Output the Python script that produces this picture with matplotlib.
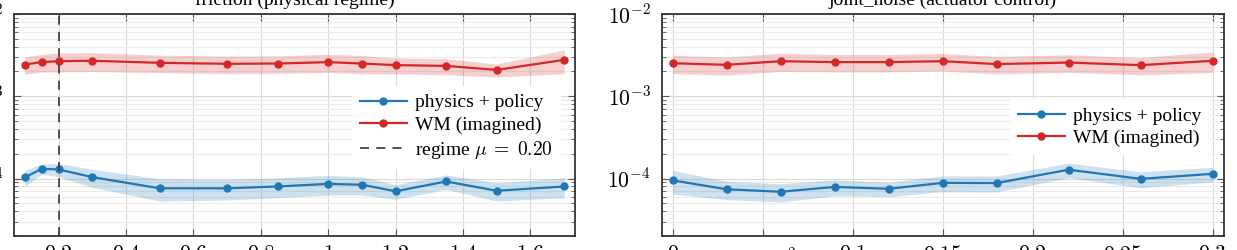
#!/usr/bin/env python3
"""
Model error vs. perturbation level: physics + policy rollouts vs. world-model imagination.
"""

import matplotlib
matplotlib.use("Agg")
import matplotlib.pyplot as plt
from matplotlib.ticker import FixedLocator, FixedFormatter, NullLocator, LogLocator
from matplotlib.transforms import ScaledTranslation

plt.rcParams["font.family"] = ["Liberation Serif", "DejaVu Serif"]
plt.rcParams["mathtext.fontset"] = "cm"

BLUE = "#1f77b4"
RED = "#d62728"

# friction sweep
friction_x = [0.1, 0.15, 0.2, 0.3, 0.5, 0.7, 0.85, 1.0, 1.1, 1.2, 1.35, 1.5, 1.7]
friction_phys = [1.03e-4, 1.31e-4, 1.29e-4, 1.04e-4, 7.6e-5, 7.6e-5, 8.0e-5,
                 8.6e-5, 8.4e-5, 7.0e-5, 9.2e-5, 7.1e-5, 8.0e-5]
friction_phys_rel = [0.22, 0.14, 0.18, 0.25, 0.30, 0.28, 0.27, 0.27, 0.25,
                     0.20, 0.20, 0.25, 0.27]
friction_wm = [2.43e-3, 2.60e-3, 2.67e-3, 2.70e-3, 2.55e-3, 2.48e-3, 2.50e-3,
               2.60e-3, 2.50e-3, 2.39e-3, 2.34e-3, 2.09e-3, 2.77e-3]
friction_wm_rel = [0.24, 0.24, 0.26, 0.26, 0.24, 0.24, 0.24, 0.25, 0.25,
                   0.22, 0.22, 0.18, 0.32]
friction_regime = 0.20
friction_ticks = [0.2, 0.4, 0.6, 0.8, 1.0, 1.2, 1.4, 1.6]
friction_ticklabels = ["$0.2$", "$0.4$", "$0.6$", "$0.8$", "$1$", "$1.2$", "$1.4$", "$1.6$"]

# joint noise sweep
noise_x = [0.0, 0.03, 0.06, 0.09, 0.12, 0.15, 0.18, 0.22, 0.26, 0.30]
noise_phys = [9.5e-5, 7.4e-5, 6.9e-5, 7.9e-5, 7.5e-5, 8.85e-5, 8.8e-5,
              1.28e-4, 9.9e-5, 1.14e-4]
noise_phys_rel = [0.32, 0.25, 0.25, 0.22, 0.20, 0.22, 0.22, 0.20, 0.22, 0.20]
noise_wm = [2.52e-3, 2.41e-3, 2.67e-3, 2.60e-3, 2.60e-3, 2.67e-3, 2.46e-3,
            2.57e-3, 2.39e-3, 2.70e-3]
noise_wm_rel = [0.25, 0.25, 0.25, 0.24, 0.24, 0.24, 0.24, 0.24, 0.24, 0.28]
noise_ticks = [0.0, 0.05, 0.1, 0.15, 0.2, 0.25, 0.3]
noise_ticklabels = ["$0$", r"$5\cdot10^{-2}$", "$0.1$", "$0.15$", "$0.2$", "$0.25$", "$0.3$"]

y_ticks = [1e-4, 1e-3, 1e-2]
y_ticklabels = ["$10^{-4}$", "$10^{-3}$", "$10^{-2}$"]


def draw_series(ax, x, mean, rel, color, label):
    lo = [m * (1 - r) for m, r in zip(mean, rel)]
    hi = [m * (1 + r) for m, r in zip(mean, rel)]
    ax.fill_between(x, lo, hi, color=color, alpha=0.22, linewidth=0)
    ax.plot(x, mean, "-o", color=color, linewidth=1.6, markersize=5, label=label)


def style_axes(ax, xlim, xticks, xticklabels):
    ax.set_yscale("log")
    ax.set_ylim(2e-5, 1e-2)
    ax.set_xlim(*xlim)
    ax.xaxis.set_major_locator(FixedLocator(xticks))
    ax.xaxis.set_major_formatter(FixedFormatter(xticklabels))
    ax.xaxis.set_minor_locator(NullLocator())
    ax.yaxis.set_major_locator(FixedLocator(y_ticks))
    ax.yaxis.set_major_formatter(FixedFormatter(y_ticklabels))
    ax.yaxis.set_minor_locator(LogLocator(base=10, subs=range(2, 10)))
    ax.grid(which="major", color="#dadada", linewidth=0.8)
    ax.grid(which="minor", axis="y", color="#ececec", linewidth=0.8)
    ax.set_axisbelow(True)
    ax.tick_params(which="both", direction="in", top=True, right=True,
                   color="#555555", labelsize=15.5)
    ax.tick_params(which="major", length=5, width=0.8)
    ax.tick_params(which="minor", length=3, width=0.6)
    ax.tick_params(axis="x", pad=7)
    ax.tick_params(axis="y", pad=8)
    for sp in ax.spines.values():
        sp.set_color("#333333")
        sp.set_linewidth(1.3)


def main() -> None:
    fig = plt.figure(figsize=(12.37, 2.5), dpi=100)
    ax1 = fig.add_axes([14 / 1237, 0.056, 561 / 1237, 0.888])
    ax2 = fig.add_axes([661.7 / 1237, 0.056, 561.8 / 1237, 0.888])

    draw_series(ax1, friction_x, friction_phys, friction_phys_rel, BLUE, "physics + policy")
    draw_series(ax1, friction_x, friction_wm, friction_wm_rel, RED, "WM (imagined)")
    ax1.axvline(friction_regime, color="#444444", linestyle=(0, (5, 4)), linewidth=1.3,
                label=rf"regime $\mu\;=\;{friction_regime:.2f}$")
    style_axes(ax1, (0.068, 1.732), friction_ticks, friction_ticklabels)
    ax1.set_title("friction (physical regime)", fontsize=14, pad=6.5)

    draw_series(ax2, noise_x, noise_phys, noise_phys_rel, BLUE, "physics + policy")
    draw_series(ax2, noise_x, noise_wm, noise_wm_rel, RED, "WM (imagined)")
    style_axes(ax2, (-0.006, 0.306), noise_ticks, noise_ticklabels)
    ax2.set_title("joint_noise (actuator control)", fontsize=14, pad=6.5)

    # the 5e-2 label hangs lower (top of its exponent lines up with the others)
    lbl = ax2.xaxis.get_major_ticks()[1].label1
    lbl.set_transform(lbl.get_transform() + ScaledTranslation(0, -2.5 / 72, fig.dpi_scale_trans))

    for ax in (ax1, ax2):
        leg = ax.legend(loc="center right", bbox_to_anchor=(1.0, 0.49), fontsize=14,
                        frameon=True, fancybox=False, framealpha=1.0, edgecolor="none",
                        handlelength=2.4, labelspacing=0.25, borderaxespad=0.72,
                        handletextpad=0.45)
        leg.get_frame().set_linewidth(0)

    fig.savefig("out.png", dpi=100)
    plt.close(fig)


if __name__ == "__main__":
    main()
